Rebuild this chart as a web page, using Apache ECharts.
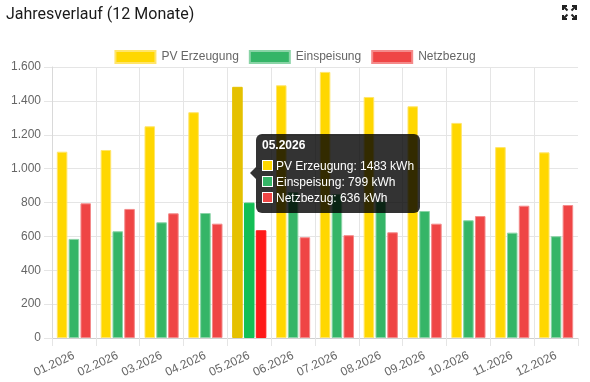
<!DOCTYPE html>
<html>
<head>
<meta charset="utf-8">
<script src="https://cdn.jsdelivr.net/npm/echarts@6/dist/echarts.min.js"></script>
<style>
html,body{margin:0;padding:0;background:#fff;}
#c{width:590px;height:382px;}
</style>
</head>
<body>
<div id="c"></div>
<script>
const months = ['01.2026','02.2026','03.2026','04.2026','05.2026','06.2026','07.2026','08.2026','09.2026','10.2026','11.2026','12.2026'];
const pvErzeugung = [1100, 1110, 1250, 1333, 1483, 1492, 1571, 1423, 1368, 1270, 1127, 1096];
const einspeisung = [585, 630, 683, 738, 799, 862, 850, 808, 750, 695, 622, 601];
const netzbezug = [795, 762, 736, 675, 636, 595, 607, 624, 675, 720, 781, 785];
const seriesNames = ['PV Erzeugung', 'Einspeisung', 'Netzbezug'];
const activeIndex = 4;

const colors = ['#FFD700', '#35B567', '#EF4545'];
const borders = ['#FFE56A', '#8AD4A6', '#F48A8A'];
const hoverColors = ['#E5C100', '#13BF55', '#FF1A1A'];

function fmt(v){ return String(v).replace(/\B(?=(\d{3})+(?!\d))/g, '.'); }

function buildData(arr, si){
  return arr.map((v, i) => i === activeIndex
    ? {value: v, itemStyle: {color: hoverColors[si], borderColor: hoverColors[si]}}
    : v);
}

const chart = echarts.init(document.getElementById('c'), null, {renderer: 'canvas'});
const font = '"Liberation Sans", Arial, Helvetica, sans-serif';
const grey = '#e5e5e5';

const allData = [pvErzeugung, einspeisung, netzbezug];

chart.setOption({
  animation: false,
  title: {
    text: 'Jahresverlauf (12 Monate)',
    left: 1, top: 2,
    textStyle: {fontFamily: 'Roboto', fontSize: 16, fontWeight: 'normal', color: '#1a1a1a'}
  },
  legend: {
    top: 45, left: 'center',
    itemWidth: 40, itemHeight: 12, itemGap: 10,
    icon: 'rect',
    data: seriesNames,
    textStyle: {fontFamily: font, fontSize: 12, color: '#666', padding: [0,0,0,1]}
  },
  grid: {left: 52, right: 12, top: 67, bottom: 44},
  tooltip: {
    trigger: 'axis',
    triggerOn: 'none',
    alwaysShowContent: true,
    axisPointer: {type: 'none'},
    transitionDuration: 0,
    showDelay: 0,
    backgroundColor: 'rgba(0,0,0,0.8)',
    borderWidth: 0,
    borderColor: 'transparent',
    padding: 0,
    position: [256, 134],
    extraCssText: 'border-radius:6px;box-shadow:none;',
    formatter: function(params){
      const i = params[0].dataIndex;
      let h = '<div style="position:relative;width:164px;height:79px;font-family:' + font.replace(/"/g,"'") + ';font-size:12px;color:#fff;">';
      h += '<div style="position:absolute;left:-6px;top:33px;width:0;height:0;border-top:6px solid transparent;border-bottom:6px solid transparent;border-right:6px solid rgba(0,0,0,0.8);"></div>';
      h += '<div style="position:absolute;left:6px;top:4px;line-height:15px;font-weight:bold;">' + months[i] + '</div>';
      for (let s = 0; s < 3; s++) {
        const top = 24 + s * 16;
        h += '<div style="position:absolute;left:6px;top:' + top + 'px;line-height:16px;white-space:nowrap;">'
          + '<span style="display:inline-block;box-sizing:border-box;width:11px;height:11px;background:' + colors[s] + ';border:1px solid #fff;vertical-align:-1px;margin-right:3px;"></span>'
          + seriesNames[s] + ': ' + allData[s][i] + ' kWh</div>';
      }
      h += '</div>';
      return h;
    }
  },
  xAxis: {
    type: 'category',
    data: months,
    boundaryGap: true,
    axisLine: {show: true, lineStyle: {color: '#d0d0d0', width: 1}},
    axisTick: {show: true, length: 8, interval: 0, lineStyle: {color: grey}},
    splitLine: {show: true, interval: 0, showMaxLine: false, lineStyle: {color: grey}},
    axisLabel: {interval: 0, rotate: 25, margin: 17, fontFamily: font, fontSize: 12, color: '#666'}
  },
  yAxis: {
    type: 'value',
    min: 0, max: 1600, interval: 200,
    axisLine: {show: true, lineStyle: {color: '#d9d9d9', width: 1}},
    axisTick: {show: true, length: 8, lineStyle: {color: grey}},
    splitLine: {show: true, lineStyle: {color: grey}},
    axisLabel: {margin: 11, fontFamily: font, fontSize: 12, color: '#666', formatter: fmt}
  },
  series: seriesNames.map((n, si) => ({
    name: n,
    type: 'bar',
    data: buildData(allData[si], si),
    barGap: '12%',
    barCategoryGap: '22%',
    itemStyle: {color: colors[si], borderColor: borders[si], borderWidth: 1},
    emphasis: {disabled: true}
  })),
  graphic: [
    {type: 'polyline', shape: {points: [[563,10],[563,6],[567,6]]}, style: {stroke: '#222', lineWidth: 2, fill: null}},
    {type: 'line', shape: {x1: 563.5, y1: 6.5, x2: 567.5, y2: 10.5}, style: {stroke: '#222', lineWidth: 2}},
    {type: 'polyline', shape: {points: [[572,6],[576,6],[576,10]]}, style: {stroke: '#222', lineWidth: 2, fill: null}},
    {type: 'line', shape: {x1: 575.5, y1: 6.5, x2: 571.5, y2: 10.5}, style: {stroke: '#222', lineWidth: 2}},
    {type: 'polyline', shape: {points: [[563,15],[563,19],[567,19]]}, style: {stroke: '#222', lineWidth: 2, fill: null}},
    {type: 'line', shape: {x1: 563.5, y1: 18.5, x2: 567.5, y2: 14.5}, style: {stroke: '#222', lineWidth: 2}},
    {type: 'polyline', shape: {points: [[572,19],[576,19],[576,15]]}, style: {stroke: '#222', lineWidth: 2, fill: null}},
    {type: 'line', shape: {x1: 575.5, y1: 18.5, x2: 571.5, y2: 14.5}, style: {stroke: '#222', lineWidth: 2}}
  ]
});

chart.dispatchAction({type: 'showTip', seriesIndex: 0, dataIndex: activeIndex});
</script>
</body>
</html>
